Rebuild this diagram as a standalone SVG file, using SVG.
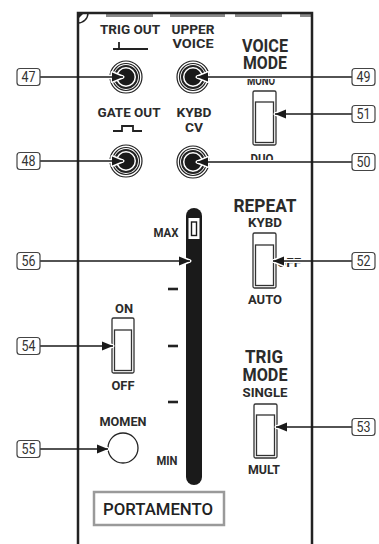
<svg xmlns="http://www.w3.org/2000/svg" xmlns:xlink="http://www.w3.org/1999/xlink" width="379" height="544" viewBox="0 0 379 544">
<style>
.t{font-family:Roboto,"Liberation Sans",sans-serif;font-weight:700;fill:#2b2b2b;text-anchor:middle}
.s{font-size:12.5px}
.m{font-size:13px}
.l{font-size:17.5px}
.n{font-family:Roboto,"Liberation Sans",sans-serif;font-size:14px;font-weight:400;fill:#333;text-anchor:middle}
.box{fill:#fff;stroke:#444;stroke-width:1.2}
.sw{fill:#fff;stroke:#333;stroke-width:1.3}
.edge{stroke:#222;stroke-width:2.5;fill:none}
.tab{fill:#8a8a8a}
.tick{stroke:#222;stroke-width:2.6}
.halo{fill:none;stroke:#fff;stroke-width:4;marker-end:url(#aw)}
.con{fill:none;stroke:#1a1a1a;stroke-width:1.5;marker-end:url(#a)}
</style>
<defs>
<marker id="a" markerUnits="userSpaceOnUse" markerWidth="12" markerHeight="10" refX="11" refY="4.5" orient="auto" style="overflow:visible"><path d="M0,0 L11,4.5 L0,9 z" fill="#1a1a1a"/></marker>
<marker id="aw" markerUnits="userSpaceOnUse" markerWidth="12" markerHeight="10" refX="11" refY="4.5" orient="auto" style="overflow:visible"><path d="M0,0 L11,4.5 L0,9 z" fill="#fff" stroke="#fff" stroke-width="3" stroke-linejoin="round"/></marker>
<g id="jack">
<circle r="16" fill="#fff" stroke="#222" stroke-width="1.2"/>
<circle r="13.5" fill="none" stroke="#222" stroke-width="1.2"/>
<circle r="11" fill="none" stroke="#222" stroke-width="2"/>
<circle r="8.5" fill="#1a1a1a"/>
</g>
</defs>
<rect width="379" height="544" fill="#fff"/>

<g id="panel-tabs">
<rect class="tab" x="106" y="14" width="47" height="3"/>
<rect class="tab" x="170" y="14" width="55" height="3"/>
<rect class="tab" x="235" y="14" width="47" height="3"/>
<rect class="tab" x="300" y="14" width="11" height="3"/>
<path d="M78,13 L84,13 L78,19 z" fill="#222"/>
<path d="M78,23 A10,10 0 0 0 88,13" fill="none" stroke="#222" stroke-width="1.5"/>
</g>

<g id="trig-out">
<text class="t m" x="130" y="34" textLength="60" lengthAdjust="spacingAndGlyphs">TRIG OUT</text>
<path d="M113,49 H148 M119,42 V49" stroke="#222" stroke-width="1.8" fill="none"/>
<use xlink:href="#jack" x="126" y="77"/>
</g>
<g id="upper-voice">
<text class="t m" x="193" y="34" textLength="43" lengthAdjust="spacingAndGlyphs">UPPER</text>
<text class="t m" x="193" y="48" textLength="41" lengthAdjust="spacingAndGlyphs">VOICE</text>
<use xlink:href="#jack" x="193" y="77"/>
</g>
<g id="gate-out">
<text class="t m" x="129" y="117" textLength="63" lengthAdjust="spacingAndGlyphs">GATE OUT</text>
<path d="M113,131 H122 V126 H133 V131 H142" stroke="#222" stroke-width="1.8" fill="none"/>
<use xlink:href="#jack" x="126" y="161"/>
</g>
<g id="kybd-cv">
<text class="t m" x="194" y="117" textLength="35" lengthAdjust="spacingAndGlyphs">KYBD</text>
<text class="t m" x="194" y="132" textLength="18" lengthAdjust="spacingAndGlyphs">CV</text>
<use xlink:href="#jack" x="193" y="162"/>
</g>

<g id="voice-mode">
<text class="t l" x="265" y="52" textLength="46" lengthAdjust="spacingAndGlyphs">VOICE</text>
<text class="t l" x="265" y="69" textLength="44" lengthAdjust="spacingAndGlyphs">MODE</text>
<text class="t s" x="261" y="85" textLength="28" lengthAdjust="spacingAndGlyphs">MONO</text>
<text class="t s" x="262" y="163" textLength="23" lengthAdjust="spacingAndGlyphs">DUO</text>
<rect class="sw" x="253" y="91" width="23" height="54" rx="1.5"/>
<rect class="sw" x="255.5" y="102" width="18" height="40.5"/>
</g>

<g id="repeat">
<text class="t l" x="265" y="212" textLength="63" lengthAdjust="spacingAndGlyphs">REPEAT</text>
<text class="t s" x="265" y="227" textLength="34" lengthAdjust="spacingAndGlyphs">KYBD</text>
<text class="t s" x="289" y="267" textLength="24" lengthAdjust="spacingAndGlyphs">OFF</text>
<text class="t s" x="265" y="304" textLength="34" lengthAdjust="spacingAndGlyphs">AUTO</text>
<rect class="sw" x="253" y="233" width="23" height="55" rx="1.5"/>
<rect class="sw" x="255.5" y="245" width="18" height="40.5"/>
</g>

<g id="trig-mode">
<text class="t l" x="264" y="363" textLength="38" lengthAdjust="spacingAndGlyphs">TRIG</text>
<text class="t l" x="265" y="381" textLength="45" lengthAdjust="spacingAndGlyphs">MODE</text>
<text class="t s" x="265" y="397" textLength="45" lengthAdjust="spacingAndGlyphs">SINGLE</text>
<text class="t s" x="264" y="474" textLength="32" lengthAdjust="spacingAndGlyphs">MULT</text>
<rect class="sw" x="254" y="404" width="23" height="54" rx="1.5"/>
<rect class="sw" x="256.5" y="415" width="18" height="40.5"/>
</g>

<g id="portamento-slider">
<text class="t s" x="166" y="237" textLength="25" lengthAdjust="spacingAndGlyphs">MAX</text>
<text class="t s" x="167" y="465" textLength="21" lengthAdjust="spacingAndGlyphs">MIN</text>
<line class="tick" x1="168" y1="289" x2="178" y2="289"/>
<line class="tick" x1="168" y1="346" x2="178" y2="346"/>
<line class="tick" x1="168" y1="402" x2="178" y2="402"/>
<rect x="186" y="208" width="16" height="277" rx="8" fill="#1a1a1a"/>
<rect x="188.5" y="218" width="11" height="21" fill="#fff"/>
<rect x="191.5" y="222" width="5" height="13.5" fill="#fff" stroke="#1a1a1a" stroke-width="1.4"/>
</g>

<g id="on-off">
<text class="t s" x="124" y="313" textLength="18" lengthAdjust="spacingAndGlyphs">ON</text>
<text class="t s" x="123" y="390" textLength="23" lengthAdjust="spacingAndGlyphs">OFF</text>
<rect class="sw" x="112" y="318" width="22" height="55" rx="1.5"/>
<rect class="sw" x="114.5" y="330" width="17" height="40.5"/>
</g>

<g id="momen">
<text class="t s" x="123" y="426" textLength="47" lengthAdjust="spacingAndGlyphs">MOMEN</text>
<circle cx="123" cy="448" r="15" fill="#fff" stroke="#222" stroke-width="1.3"/>
</g>

<g id="portamento-label">
<rect x="94" y="492" width="130" height="33" fill="none" stroke="#9a9a9a" stroke-width="2.5"/>
<text x="158" y="515" font-family="Roboto,'Liberation Sans',sans-serif" font-size="16" font-weight="500" fill="#222" text-anchor="middle" textLength="110" lengthAdjust="spacingAndGlyphs">PORTAMENTO</text>
</g>

<g id="connector-halos">
<path class="halo" d="M40,77 H123"/>
<path class="halo" d="M40,161 H123"/>
<path class="halo" d="M352,77 H197"/>
<path class="halo" d="M352,162 H197"/>
<path class="halo" d="M352,114 H275"/>
<path class="halo" d="M352,261 H273"/>
<path class="halo" d="M352,427 H276"/>
<path class="halo" d="M40,346 H113"/>
<path class="halo" d="M40,449 H108"/>
<path class="halo" d="M40,261 H190"/>
</g>

<g id="panel-edges">
<path class="edge" d="M78,544 V13 H312 V544"/>
</g>

<g id="connectors">
<path class="con" d="M40,77 H123"/>
<path class="con" d="M40,161 H123"/>
<path class="con" d="M352,77 H197"/>
<path class="con" d="M352,162 H197"/>
<path class="con" d="M352,114 H275"/>
<path class="con" d="M352,261 H273"/>
<path class="con" d="M352,427 H276"/>
<path class="con" d="M40,346 H113"/>
<path class="con" d="M40,449 H108"/>
<path class="con" d="M40,261 H190"/>
</g>

<g id="label-47"><rect class="box" x="17" y="68.5" width="23" height="17" rx="3"/><text class="n" x="28.5" y="82" textLength="14" lengthAdjust="spacingAndGlyphs">47</text></g>
<g id="label-48"><rect class="box" x="17" y="152.5" width="23" height="17" rx="3"/><text class="n" x="28.5" y="166" textLength="14" lengthAdjust="spacingAndGlyphs">48</text></g>
<g id="label-56"><rect class="box" x="17" y="252.5" width="23" height="17" rx="3"/><text class="n" x="28.5" y="266" textLength="14" lengthAdjust="spacingAndGlyphs">56</text></g>
<g id="label-54"><rect class="box" x="17" y="337.5" width="23" height="17" rx="3"/><text class="n" x="28.5" y="351" textLength="14" lengthAdjust="spacingAndGlyphs">54</text></g>
<g id="label-55"><rect class="box" x="17" y="440.5" width="23" height="17" rx="3"/><text class="n" x="28.5" y="454" textLength="14" lengthAdjust="spacingAndGlyphs">55</text></g>
<g id="label-49"><rect class="box" x="352" y="68.5" width="23" height="17" rx="3"/><text class="n" x="363.5" y="82" textLength="14" lengthAdjust="spacingAndGlyphs">49</text></g>
<g id="label-50"><rect class="box" x="352" y="153.5" width="23" height="17" rx="3"/><text class="n" x="363.5" y="167" textLength="14" lengthAdjust="spacingAndGlyphs">50</text></g>
<g id="label-51"><rect class="box" x="352" y="105.5" width="23" height="17" rx="3"/><text class="n" x="363.5" y="119" textLength="14" lengthAdjust="spacingAndGlyphs">51</text></g>
<g id="label-52"><rect class="box" x="352" y="252.5" width="23" height="17" rx="3"/><text class="n" x="363.5" y="266" textLength="14" lengthAdjust="spacingAndGlyphs">52</text></g>
<g id="label-53"><rect class="box" x="352" y="418.5" width="23" height="17" rx="3"/><text class="n" x="363.5" y="432" textLength="14" lengthAdjust="spacingAndGlyphs">53</text></g>
</svg>
